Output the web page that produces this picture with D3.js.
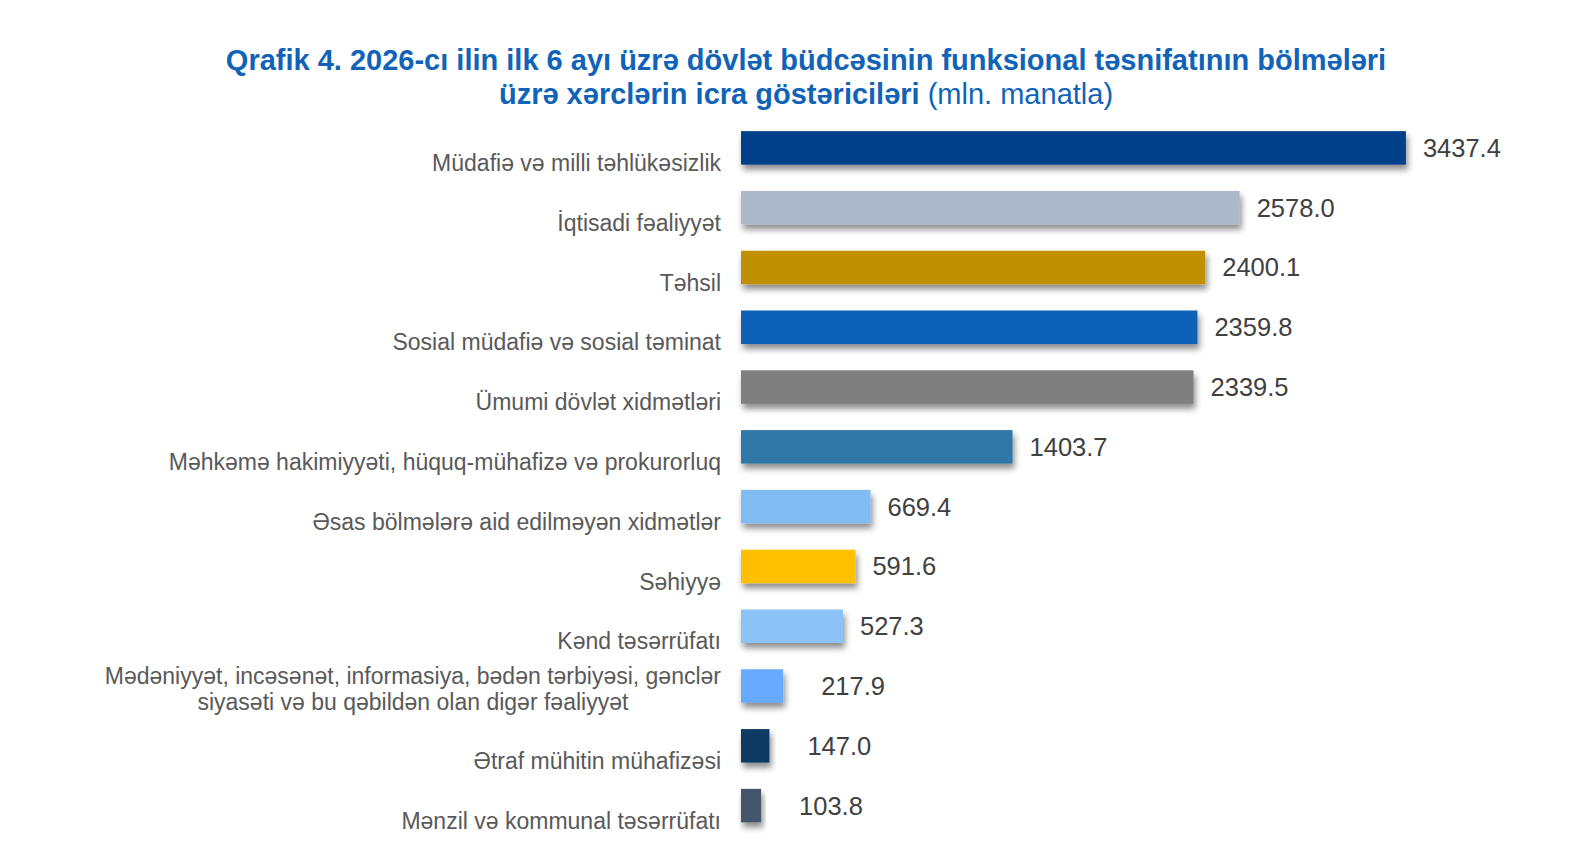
<!DOCTYPE html>
<html>
<head>
<meta charset="utf-8">
<script src="https://cdn.jsdelivr.net/npm/d3@7"></script>
<style>
  body { margin: 0; background: #fff; overflow: hidden; }
  svg { display: block; }
  .cat { font-family: "Liberation Sans", Arial, sans-serif; font-size: 23px; fill: #595959; }
  .val { font-family: "Liberation Sans", Arial, sans-serif; font-size: 25.5px; fill: #404040; }
  .title { font-family: "Liberation Sans", Arial, sans-serif; font-size: 29px; fill: #1063B8; }
</style>
</head>
<body>
<div class="chart"></div>
<script>
// data
var categories = [
  'Müdafiə və milli təhlükəsizlik',
  'İqtisadi fəaliyyət',
  'Təhsil',
  'Sosial müdafiə və sosial təminat',
  'Ümumi dövlət xidmətləri',
  'Məhkəmə hakimiyyəti, hüquq-mühafizə və prokurorluq',
  'Əsas bölmələrə aid edilməyən xidmətlər',
  'Səhiyyə',
  'Kənd təsərrüfatı',
  'Mədəniyyət, incəsənət, informasiya, bədən tərbiyəsi, gənclər\nsiyasəti və bu qəbildən olan digər fəaliyyət',
  'Ətraf mühitin mühafizəsi',
  'Mənzil və kommunal təsərrüfatı'
];

var values = [3437.4, 2578.0, 2400.1, 2359.8, 2339.5, 1403.7, 669.4, 591.6, 527.3, 217.9, 147.0, 103.8];

var colors = ['#023F8A', '#ADB9CB', '#BF9000', '#0C62B7', '#7F7F7F', '#2E77A6',
              '#80BBF2', '#FFC000', '#8CC3F6', '#66AAFF', '#0B3B63', '#44546A'];

var w = 1580
  , h = 843
  , x0 = 741;

var svg = d3.select('.chart')
            .append('svg')
            .attr('width', w)
            .attr('height', h);

// soft shadow under the bars
var filter = svg.append('defs').append('filter')
    .attr('id', 'shadow')
    .attr('x', '-10%').attr('y', '-30%')
    .attr('width', '130%').attr('height', '180%');
filter.append('feDropShadow')
    .attr('dx', 2)
    .attr('dy', 5)
    .attr('stdDeviation', 3)
    .attr('flood-color', '#000')
    .attr('flood-opacity', 0.45);

// title
var title = svg.append('text')
    .attr('class', 'title')
    .attr('text-anchor', 'middle')
    .attr('x', 806);
title.append('tspan')
    .attr('x', 806).attr('y', 70)
    .attr('font-weight', 'bold')
    .text('Qrafik 4. 2026-cı ilin ilk 6 ayı üzrə dövlət büdcəsinin funksional təsnifatının bölmələri');
var line2 = title.append('tspan').attr('x', 806).attr('y', 104);
line2.append('tspan').attr('font-weight', 'bold').text('üzrə xərclərin icra göstəriciləri');
line2.append('tspan').text(' (mln. manatla)');

var x = d3.scaleLinear()
    .domain([0, 3500])
    .range([x0, 1418]);

var y = d3.scaleBand()
    .domain(categories)
    .range([118, 835.5])
    .paddingInner(0.44)
    .paddingOuter(0.22);

var rows = categories.map(function (c, i) {
  return { cat: c, value: values[i], color: colors[i] };
});

svg.selectAll('rect.bar')
    .data(rows)
    .enter()
    .append('rect')
    .attr('class', 'bar')
    .attr('x', x(0))
    .attr('y', function (d) { return y(d.cat); })
    .attr('width', function (d) { return x(d.value) - x(0); })
    .attr('height', y.bandwidth())
    .attr('fill', function (d) { return d.color; })
    .attr('filter', 'url(#shadow)');

// value labels (small bars get a wider gap, as in the original)
svg.selectAll('text.val')
    .data(rows)
    .enter()
    .append('text')
    .attr('class', 'val')
    .attr('x', function (d) { return x(d.value) + (d.value < 300 ? 38 : 17); })
    .attr('y', function (d) { return y(d.cat) + y.bandwidth() / 2; })
    .attr('dy', '0.35em')
    .text(function (d) { return d.value.toFixed(1); });

// category labels, sitting a little below the bar centre
var cats = svg.selectAll('text.cat')
    .data(rows)
    .enter()
    .append('text')
    .attr('class', 'cat')
    .attr('transform', function (d) {
      var lines = d.cat.split('\n').length
        , cy = y(d.cat) + y.bandwidth() / 2 + (lines > 1 ? 3 : 15);
      return 'translate(721,' + cy + ')';
    });

cats.each(function (d) {
  var lines = d.cat.split('\n')
    , node = d3.select(this)
    , lh = 26
    , firstW = 0;
  lines.forEach(function (l, i) {
    var t = node.append('tspan')
        .attr('y', (i - (lines.length - 1) / 2) * lh)
        .attr('dy', '0.35em')
        .text(l);
    if (i === 0) {
      t.attr('x', 0).attr('text-anchor', 'end');
      firstW = t.node().getComputedTextLength();
    } else {
      // following lines are centred under the first one
      t.attr('x', -firstW / 2).attr('text-anchor', 'middle');
    }
  });
});
</script>
</body>
</html>
